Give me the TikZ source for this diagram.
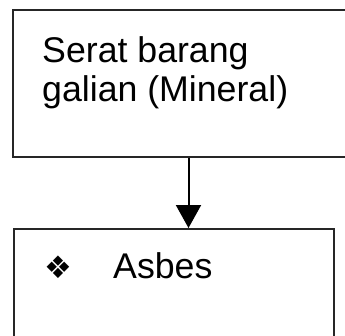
\documentclass[tikz,border=0pt]{standalone}
\usepackage{fontspec}
\setmainfont{Liberation Sans}
\newfontfamily\symfont{DejaVu Sans}
\usetikzlibrary{arrows.meta}
\begin{document}
\begin{tikzpicture}[x=1pt,y=-1pt,
  boxstyle/.style={draw=black!85, line width=2pt, fill=white, inner sep=0pt,
    anchor=north west},
  label/.style={inner sep=0pt, anchor=base west, text=black,
    font=\fontsize{35.7}{41}\selectfont},
  conn/.style={draw=black, line width=2pt,
    -{Triangle[width=25pt,length=23pt]}}]
\useasboundingbox (0,0) rectangle (345,335);
\clip (0,0) rectangle (345,335);
\fill[white] (0,0) rectangle (345,335);
% boxes
\node[boxstyle, minimum width=348pt, minimum height=147pt] (topbox) at (12,8.5) {};
\node[boxstyle, minimum width=320pt, minimum height=122pt] (botbox) at (12.5,228) {};
% arrow
\coordinate (arrowx) at (188.5,0);
\draw[conn] (topbox.south -| arrowx) -- (botbox.north -| arrowx);
% texts
\node[label] (t1) at (42,62) {Serat barang};
\node[label] (t2) at (42,101) {galian (Mineral)};
\node[label] (t3) at (113,278) {Asbes};
\node[inner sep=0pt, font=\symfont\fontsize{31}{34}\selectfont] (bullet) at (58.5,267) {❖};
\end{tikzpicture}
\end{document}
